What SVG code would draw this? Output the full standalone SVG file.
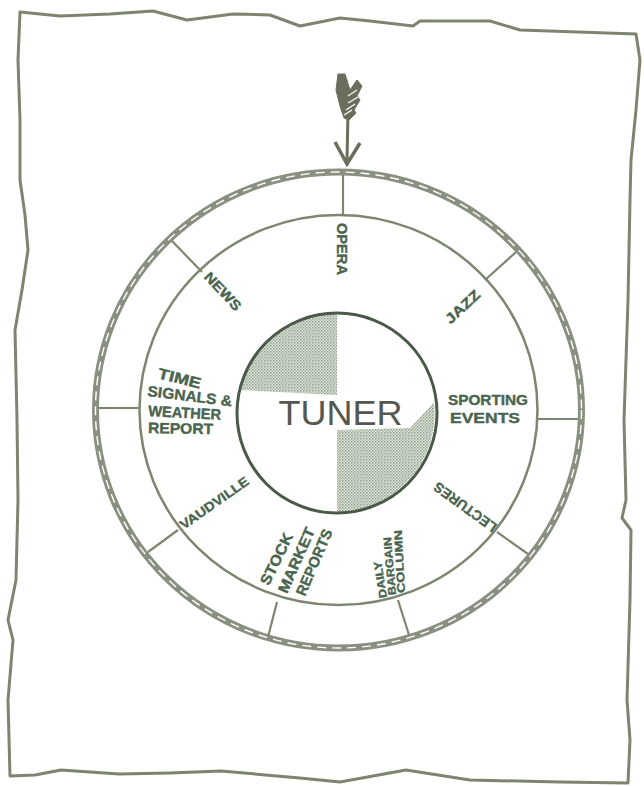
<svg xmlns="http://www.w3.org/2000/svg" width="644" height="786" viewBox="0 0 644 786">
<style>
.lbl{font-family:"Liberation Sans","Arial",sans-serif;font-weight:bold;fill:#4a654f;stroke:#4a654f;stroke-width:0.4;}
.ring{fill:none;stroke:#8a9080;stroke-width:7;}
.dash{fill:none;stroke:#ffffff;stroke-width:1.4;stroke-dasharray:9 6;}
.inner{fill:none;stroke:#7d8770;stroke-width:2.5;}
.spoke{stroke:#7d8770;stroke-width:2.2;fill:none;}
</style>
<defs>
<pattern id="hatch" patternUnits="userSpaceOnUse" width="3" height="3">
<rect width="3" height="3" fill="#e2e8df"/>
<rect width="1.5" height="1.5" fill="#8c9b88"/>
<rect x="1.5" y="1.5" width="1.5" height="1.5" fill="#a7b5a3"/>
</pattern>
</defs>
<rect width="644" height="786" fill="#ffffff"/>
<g id="border">
<path d="M20,12 L60,16 L110,14 L153,11 L187,20 L233,14 L270,15 L300,26 L340,18 L370,21 L413,26 L420,21 L490,21 L520,30 L636,34 L640,60 L636,110 L631,160 L630,200 L628,300 L624,420 L626,500 L622,518 L631,530 L630,600 L627,700 L630,740 L628,783 L560,782 L470,780 L406,770 L340,782 L300,778 L221,771 L170,773 L119,774 L61,770 L35,775 L10,776 L8,700 L13,640 L8,620 L16,580 L18,500 L17,420 L15,330 L22,290 L28,250 L25,215 L20,180 L20,120 L18,60 Z" fill="none" stroke="#7d8570" stroke-width="3" stroke-linejoin="round"/>
</g>
<g id="dial">
<ellipse class="ring" cx="338.5" cy="410" rx="243" ry="238"/>
<ellipse class="dash" cx="338.5" cy="410" rx="243" ry="238"/>
<ellipse class="inner" cx="338.5" cy="410" rx="199" ry="195"/>
</g>
<g id="connectors">
<line class="spoke" x1="343" y1="175" x2="343" y2="215"/>
<line class="spoke" x1="202" y1="272" x2="172" y2="241"/>
<line class="spoke" x1="485" y1="280" x2="516" y2="252"/>
<line class="spoke" x1="537" y1="419" x2="578" y2="419"/>
<line class="spoke" x1="497" y1="532" x2="528" y2="554"/>
<line class="spoke" x1="398" y1="600" x2="409" y2="635"/>
<line class="spoke" x1="277" y1="602" x2="268" y2="637"/>
<line class="spoke" x1="178" y1="530" x2="148" y2="552"/>
<line class="spoke" x1="99" y1="408" x2="140" y2="408"/>
</g>
<g id="arrow" fill="#6b6e5c" stroke="#6b6e5c">
<line x1="348" y1="112" x2="347" y2="160" stroke-width="3"/>
<polyline points="335,142 347,164 360,143" fill="none" stroke-width="3.5" stroke-linejoin="miter"/>
<polygon points="338,74 345,74 350,90 357,80 362,86 357,96 360,100 354,110 356,113 349,120 344,118 340,106 336,90" stroke-width="1"/>
<g stroke="#ffffff" stroke-width="1.2">
<line x1="348" y1="96" x2="357" y2="90"/>
<line x1="348" y1="103" x2="358" y2="97"/>
<line x1="346" y1="110" x2="355" y2="104"/>
<line x1="344" y1="115" x2="352" y2="110"/>
</g>
</g>
<g id="tuner">
<circle cx="337" cy="413" r="100" fill="#ffffff"/>
<path d="M337,395 L240,390 A100,100 0 0 1 337,313 Z" fill="url(#hatch)"/>
<path d="M337,430 L410,428 L434,402 A100,100 0 0 1 337,513 Z" fill="url(#hatch)"/>
<circle cx="337" cy="413" r="100" fill="none" stroke="#4a5a48" stroke-width="3"/>
<text x="340.5" y="425" text-anchor="middle" font-family="Liberation Sans, Arial, sans-serif" font-size="35" fill="#555750" textLength="124" lengthAdjust="spacingAndGlyphs">TUNER</text>
</g>
<g id="opera"><text class="lbl" font-size="14" transform="translate(337,223) rotate(90)" textLength="52" lengthAdjust="spacingAndGlyphs">OPERA</text></g>
<g id="jazz"><text class="lbl" font-size="14" transform="translate(447,321) rotate(-43)" dy="0.36em" textLength="42" lengthAdjust="spacingAndGlyphs">JAZZ</text></g>
<g id="sporting-events">
<text class="lbl" font-size="15" x="448" y="405" textLength="80" lengthAdjust="spacingAndGlyphs">SPORTING</text>
<text class="lbl" font-size="15" x="450" y="423" textLength="70" lengthAdjust="spacingAndGlyphs">EVENTS</text>
</g>
<g id="lectures"><text class="lbl" font-size="14" transform="translate(495,529) rotate(216)" dy="0.36em" textLength="74" lengthAdjust="spacingAndGlyphs">LECTURES</text></g>
<g id="daily-bargain-column">
<text class="lbl" font-size="11" transform="translate(383,598) rotate(-99)" dy="0.36em" textLength="37" lengthAdjust="spacingAndGlyphs">DAILY</text>
<text class="lbl" font-size="11" transform="translate(392,595) rotate(-95)" dy="0.36em" textLength="58" lengthAdjust="spacingAndGlyphs">BARGAIN</text>
<text class="lbl" font-size="11" transform="translate(401,593) rotate(-93)" dy="0.36em" textLength="63" lengthAdjust="spacingAndGlyphs">COLUMN</text>
</g>
<g id="stock-market-reports">
<text class="lbl" font-size="15" transform="translate(264,584) rotate(-64)" dy="0.36em" textLength="56" lengthAdjust="spacingAndGlyphs">STOCK</text>
<text class="lbl" font-size="15" transform="translate(282,592) rotate(-66)" dy="0.36em" textLength="70" lengthAdjust="spacingAndGlyphs">MARKET</text>
<text class="lbl" font-size="15" transform="translate(300,595) rotate(-67)" dy="0.36em" textLength="71" lengthAdjust="spacingAndGlyphs">REPORTS</text>
</g>
<g id="vaudville"><text class="lbl" font-size="13" transform="translate(181,526) rotate(-35)" dy="0.36em" textLength="81" lengthAdjust="spacingAndGlyphs">VAUDVILLE</text></g>
<g id="news"><text class="lbl" font-size="14" transform="translate(207,274) rotate(47)" dy="0.36em" textLength="47" lengthAdjust="spacingAndGlyphs">NEWS</text></g>
<g id="time-signals">
<text class="lbl" font-size="15" transform="translate(157,378) rotate(14)" textLength="44" lengthAdjust="spacingAndGlyphs">TIME</text>
<text class="lbl" font-size="15" transform="translate(147,396) rotate(7)" textLength="85" lengthAdjust="spacingAndGlyphs">SIGNALS &amp;</text>
<text class="lbl" font-size="15" transform="translate(148,416) rotate(3)" textLength="73" lengthAdjust="spacingAndGlyphs">WEATHER</text>
<text class="lbl" font-size="15" transform="translate(148,433) rotate(1)" textLength="65" lengthAdjust="spacingAndGlyphs">REPORT</text>
</g>
</svg>
